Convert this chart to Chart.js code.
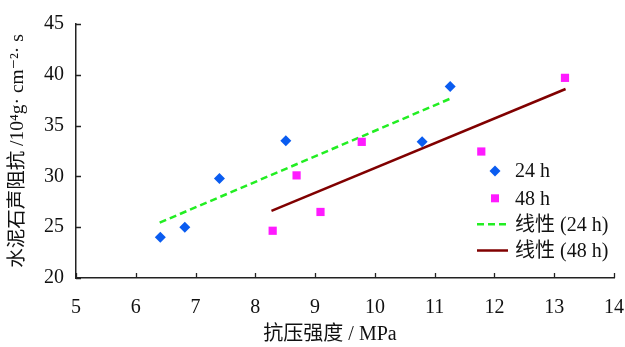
<!DOCTYPE html>
<html>
<head>
<meta charset="utf-8">
<script src="https://cdn.jsdelivr.net/npm/chart.js@4/dist/chart.umd.min.js"></script>
<style>
  html, body { margin: 0; padding: 0; background: #fff; }
  #wrap { width: 625px; height: 347px; }
</style>
</head>
<body>
<div id="wrap"><canvas id="chart" width="625" height="347"></canvas></div>
<script>
// 抗压强度 (MPa) 与 水泥石声阻抗
const strength24 = [6.41, 6.82, 7.40, 8.51, 10.79, 11.26];
const impedance24 = [24.0, 25.0, 29.8, 33.5, 33.4, 38.85];
const strength48 = [8.29, 8.69, 9.09, 9.78, 11.78, 13.18];
const impedance48 = [24.65, 30.1, 26.5, 33.4, 32.45, 39.7];
// 线性趋势线端点
const fit24X = [6.4, 11.28];
const fit24Y = [25.45, 37.7];
const fit48X = [8.27, 13.19];
const fit48Y = [26.6, 38.6];

const xTicks = [5, 6, 7, 8, 9, 10, 11, 12, 13, 14];
const yTicks = [20, 25, 30, 35, 40, 45];

const seriesNames = ['24 h', '48 h', '线性 (24 h)', '线性 (48 h)'];

const FONT = '"Liberation Serif", "DejaVu Serif", "Noto Sans CJK SC", serif';

const toPoints = (xs, ys) => xs.map((x, i) => ({ x: x, y: ys[i] }));

// 刻度线朝内
const innerTicks = {
    id: 'innerTicks',
    afterDraw(chart) {
        const ctx = chart.ctx;
        const xs = chart.scales.x, ys = chart.scales.y;
        const area = chart.chartArea;
        ctx.save();
        ctx.strokeStyle = '#222';
        ctx.lineWidth = 1.3;
        ctx.beginPath();
        xTicks.forEach(v => {
            const px = Math.round(xs.getPixelForValue(v)) + 0.5;
            ctx.moveTo(px, area.bottom);
            ctx.lineTo(px, area.bottom - 5);
        });
        yTicks.forEach(v => {
            const py = Math.round(ys.getPixelForValue(v)) + 0.5;
            ctx.moveTo(area.left, py);
            ctx.lineTo(area.left + 5, py);
        });
        ctx.stroke();
        ctx.restore();
    }
};

// 图例
const customLegend = {
    id: 'customLegend',
    afterDraw(chart) {
        const ctx = chart.ctx;
        const ds = chart.data.datasets;
        const markX = 495, textX = 515;
        const rows = [171, 198.3, 224.3, 250.5];
        ctx.save();
        ds.forEach((d, i) => {
            const y = rows[i];
            if (d.showLine) {
                ctx.strokeStyle = d.borderColor;
                ctx.lineWidth = d.borderWidth;
                ctx.setLineDash(d.borderDash || []);
                ctx.beginPath();
                ctx.moveTo(477, y);
                ctx.lineTo(508, y);
                ctx.stroke();
                ctx.setLineDash([]);
            } else {
                ctx.fillStyle = d.backgroundColor;
                ctx.beginPath();
                if (d.pointStyle === 'rectRot') {
                    ctx.moveTo(markX, y - 5.5);
                    ctx.lineTo(markX + 5.5, y);
                    ctx.lineTo(markX, y + 5.5);
                    ctx.lineTo(markX - 5.5, y);
                } else {
                    ctx.rect(markX - 4, y - 4, 8, 8);
                }
                ctx.fill();
            }
            ctx.fillStyle = '#111';
            ctx.font = '20px ' + FONT;
            ctx.textBaseline = 'middle';
            ctx.textAlign = 'left';
            ctx.fillText(d.label, textX, y + 1);
        });
        ctx.restore();
    }
};

new Chart(document.getElementById('chart').getContext('2d'), {
    type: 'scatter',
    data: {
        datasets: [
            {
                label: seriesNames[0],
                data: toPoints(strength24, impedance24),
                pointStyle: 'rectRot',
                pointRadius: 5.5,
                backgroundColor: '#0a5cf0',
                borderColor: '#0a5cf0',
                borderWidth: 0
            },
            {
                label: seriesNames[1],
                data: toPoints(strength48, impedance48),
                pointStyle: 'rect',
                pointRadius: 5.8,
                backgroundColor: '#ff1aff',
                borderColor: '#ff1aff',
                borderWidth: 0
            },
            {
                label: seriesNames[2],
                data: toPoints(fit24X, fit24Y),
                showLine: true,
                pointRadius: 0,
                borderColor: '#22ee22',
                borderWidth: 2.5,
                borderDash: [7, 4]
            },
            {
                label: seriesNames[3],
                data: toPoints(fit48X, fit48Y),
                showLine: true,
                pointRadius: 0,
                borderColor: '#800000',
                borderWidth: 2.5
            }
        ]
    },
    options: {
        responsive: false,
        animation: false,
        layout: { padding: { top: 20, right: 11, bottom: 0, left: 0 } },
        plugins: {
            legend: { display: false },
            tooltip: { enabled: false }
        },
        scales: {
            x: {
                type: 'linear',
                min: 5,
                max: 14,
                afterBuildTicks(scale) { scale.ticks = xTicks.map(v => ({ value: v })); },
                afterFit(scale) {
                    scale.height = 69;
                    scale.paddingLeft = 0;
                    scale.paddingRight = 0;
                },
                grid: { display: false, drawTicks: false },
                border: { display: true, color: '#222', width: 1.5 },
                ticks: {
                    color: '#111',
                    padding: 18,
                    font: { family: FONT, size: 20 }
                },
                title: {
                    display: true,
                    text: '抗压强度 / MPa\u2003\u2002',
                    color: '#111',
                    padding: { top: 0, bottom: 0 },
                    font: { family: FONT, size: 20 }
                }
            },
            y: {
                type: 'linear',
                min: 20,
                max: 45,
                afterBuildTicks(scale) { scale.ticks = yTicks.map(v => ({ value: v })); },
                afterFit(scale) { scale.width = 76; },
                grid: { display: false, drawTicks: false },
                border: { display: true, color: '#222', width: 1.5 },
                ticks: {
                    color: '#111',
                    padding: 12,
                    font: { family: FONT, size: 20 }
                },
                title: {
                    display: true,
                    text: '水泥石声阻抗 /10⁴g· cm⁻²· s',
                    color: '#111',
                    padding: { top: 6, bottom: 0 },
                    font: { family: FONT, size: 19.5 }
                }
            }
        }
    },
    plugins: [innerTicks, customLegend]
});
</script>
</body>
</html>
